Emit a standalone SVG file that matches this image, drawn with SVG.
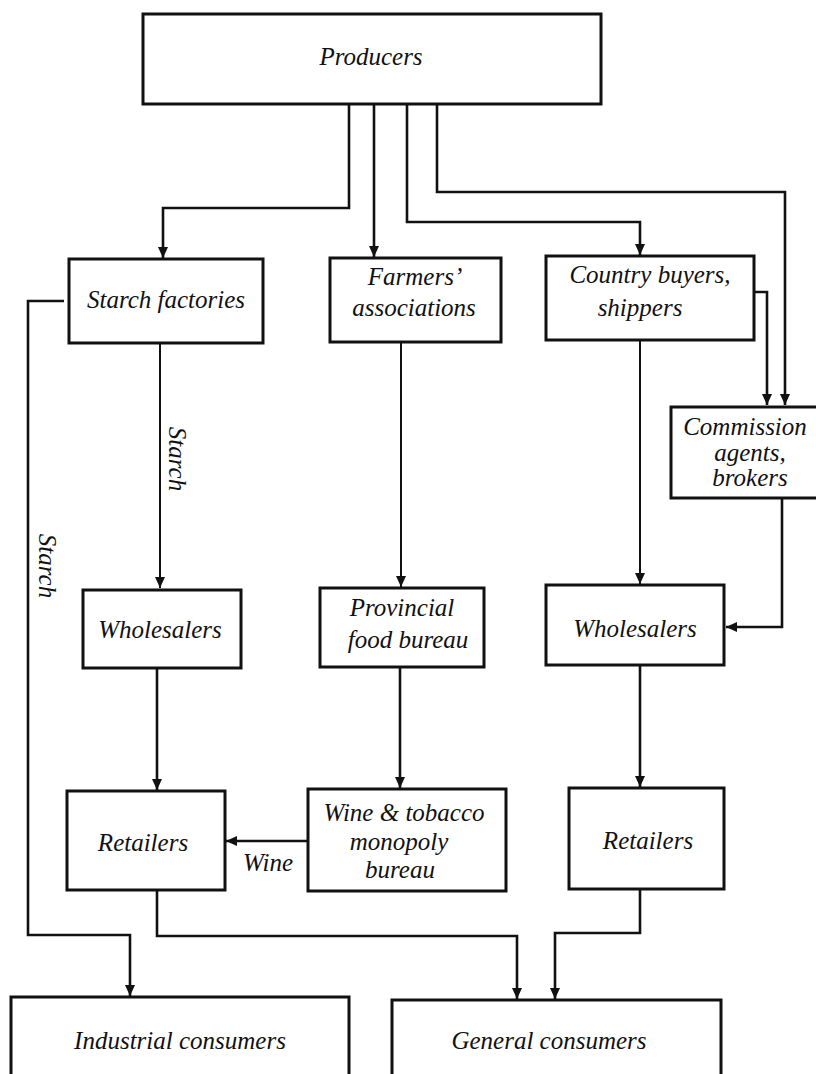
<svg xmlns="http://www.w3.org/2000/svg" width="816" height="1074" viewBox="0 0 816 1074">
  <style>
    .box { fill: #fff; stroke: #111; stroke-width: 3; }
    .lbl { font-family: "Liberation Serif", "DejaVu Serif", serif; font-style: italic; font-size: 25px; fill: #111; text-anchor: middle; }
    .conn { fill: none; stroke: #111; stroke-width: 2.6; stroke-linejoin: miter; }
    .thin { stroke-width: 2; }
  </style>
  <defs>
    <marker id="arrow" markerUnits="userSpaceOnUse" markerWidth="12" markerHeight="10" refX="11" refY="5" orient="auto">
      <path d="M0,0 L11,5 L0,10 z" fill="#111"/>
    </marker>
  </defs>
  <rect width="816" height="1074" fill="#fff"/>

  <!-- connectors -->
  <g id="connectors">
    <path class="conn" d="M349,104 V208 H163 V258" marker-end="url(#arrow)"/>
    <path class="conn" d="M374,104 V257" marker-end="url(#arrow)"/>
    <path class="conn" d="M407,104 V222 H640 V255" marker-end="url(#arrow)"/>
    <path class="conn" d="M437,104 V192 H785 V405" marker-end="url(#arrow)"/>
    <path class="conn" d="M754,292 H767 V405" marker-end="url(#arrow)"/>
    <path class="conn thin" d="M160,343 V588" marker-end="url(#arrow)"/>
    <path class="conn" d="M64,301 H28 V935 H130 V996" marker-end="url(#arrow)"/>
    <path class="conn thin" d="M401,342 V587" marker-end="url(#arrow)"/>
    <path class="conn thin" d="M640,340 V584" marker-end="url(#arrow)"/>
    <path class="conn" d="M782,498 V627 H726" marker-end="url(#arrow)"/>
    <path class="conn" d="M157,668 V790" marker-end="url(#arrow)"/>
    <path class="conn" d="M400,667 V788" marker-end="url(#arrow)"/>
    <path class="conn" d="M640,665 V787" marker-end="url(#arrow)"/>
    <path class="conn" d="M307,841 H226" marker-end="url(#arrow)"/>
    <path class="conn" d="M157,890 V936 H517 V999" marker-end="url(#arrow)"/>
    <path class="conn" d="M640,889 V933 H555 V999" marker-end="url(#arrow)"/>
    <text class="lbl" transform="translate(177,459) rotate(90)" dominant-baseline="central">Starch</text>
    <text class="lbl" transform="translate(47,566) rotate(90)" dominant-baseline="central">Starch</text>
    <text class="lbl" x="268" y="871">Wine</text>
  </g>

  <g id="producers">
    <rect class="box" x="143" y="14" width="458" height="90"/>
    <text class="lbl" x="371" y="65">Producers</text>
  </g>
  <g id="starch-factories">
    <rect class="box" x="69" y="259" width="194" height="84"/>
    <text class="lbl" x="166" y="308">Starch factories</text>
  </g>
  <g id="farmers-associations">
    <rect class="box" x="330" y="258" width="171" height="84"/>
    <text class="lbl" x="415" y="285">Farmers’</text>
    <text class="lbl" x="414" y="316">associations</text>
  </g>
  <g id="country-buyers">
    <rect class="box" x="546" y="256" width="208" height="84"/>
    <text class="lbl" x="650" y="283">Country buyers,</text>
    <text class="lbl" x="640" y="316">shippers</text>
  </g>
  <g id="commission-agents">
    <rect class="box" x="671" y="407" width="150" height="91"/>
    <text class="lbl" x="745" y="435">Commission</text>
    <text class="lbl" x="750" y="461">agents,</text>
    <text class="lbl" x="750" y="486">brokers</text>
  </g>
  <g id="wholesalers-left">
    <rect class="box" x="83" y="590" width="158" height="78"/>
    <text class="lbl" x="160" y="638">Wholesalers</text>
  </g>
  <g id="provincial-food-bureau">
    <rect class="box" x="320" y="588" width="164" height="79"/>
    <text class="lbl" x="402" y="616">Provincial</text>
    <text class="lbl" x="408" y="648">food bureau</text>
  </g>
  <g id="wholesalers-right">
    <rect class="box" x="546" y="585" width="178" height="80"/>
    <text class="lbl" x="635" y="637">Wholesalers</text>
  </g>
  <g id="retailers-left">
    <rect class="box" x="67" y="791" width="158" height="99"/>
    <text class="lbl" x="143" y="851">Retailers</text>
  </g>
  <g id="wine-tobacco-bureau">
    <rect class="box" x="308" y="789" width="198" height="102"/>
    <text class="lbl" x="404" y="821">Wine &amp; tobacco</text>
    <text class="lbl" x="399" y="850">monopoly</text>
    <text class="lbl" x="400" y="878">bureau</text>
  </g>
  <g id="retailers-right">
    <rect class="box" x="569" y="788" width="155" height="101"/>
    <text class="lbl" x="648" y="849">Retailers</text>
  </g>
  <g id="industrial-consumers">
    <rect class="box" x="11" y="997" width="338" height="100"/>
    <text class="lbl" x="180" y="1049">Industrial consumers</text>
  </g>
  <g id="general-consumers">
    <rect class="box" x="392" y="1000" width="329" height="100"/>
    <text class="lbl" x="549" y="1049">General consumers</text>
  </g>
</svg>
